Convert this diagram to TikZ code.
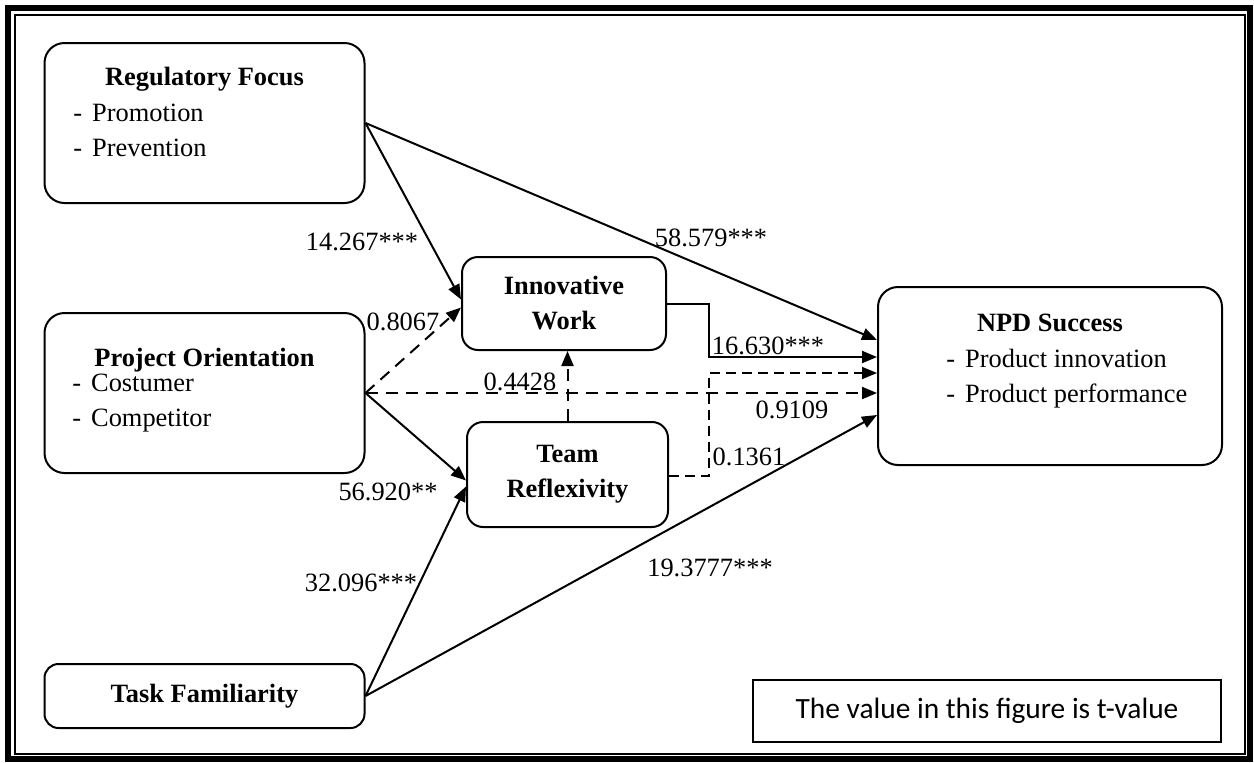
\documentclass[tikz,border=0pt]{standalone}
\usepackage{fontspec}
\setmainfont{Liberation Serif}
\newfontfamily\notefont{Carlito}
\usetikzlibrary{arrows.meta}
\newcommand{\dashitem}[1]{-\hspace{5pt}#1}

\begin{document}
\begin{tikzpicture}[x=0.5pt,y=-0.5pt,
        every node/.style={inner sep=0pt, font=\fontsize{13.2}{17.5}\selectfont},
        bigbox/.style={draw, line width=1pt, rounded corners=10pt},
        smallbox/.style={draw, line width=1pt, rounded corners=8pt, align=center,
            font=\fontsize{13.2}{17.5}\selectfont\bfseries},
        title/.style={anchor=base, font=\fontsize{13.2}{17.5}\selectfont\bfseries},
        solidarrow/.style={line width=1pt, -{Triangle[length=7.5pt,width=6pt]}},
        dasharrow/.style={solidarrow, dash pattern=on 6pt off 4pt}]
        \useasboundingbox (0,0) rectangle (1254,762);
        % frame
        \draw [line width=3pt] (8,8) rectangle (1250,759);
        \draw [line width=0.8pt] (15,15) rectangle (1245,754);
        % constructs
        \node [bigbox, minimum width=160pt, minimum height=80pt] (rf) at (204.5,123) {};
        \node [title] (rftitle) at (204.5,85) {Regulatory Focus};
        \node [anchor=base west] (rflist) at (73,121)
            {\begin{tabular}[t]{@{}l@{}}\dashitem{Promotion}\\ \dashitem{Prevention}\end{tabular}};
        \node [bigbox, minimum width=160pt, minimum height=80pt] (po) at (204.5,393) {};
        \node [title] (potitle) at (204.5,366) {Project Orientation};
        \node [anchor=base west] (polist) at (72,391)
            {\begin{tabular}[t]{@{}l@{}}\dashitem{Costumer}\\ \dashitem{Competitor}\end{tabular}};
        \node [smallbox, rounded corners=7pt, minimum width=160pt, minimum height=32pt] (tf) at (204.5,696) {Task Familiarity};
        \node [smallbox, minimum width=102pt, minimum height=46.5pt] (iw) at (564,303.5) {Innovative\\Work};
        \node [smallbox, minimum width=100.5pt, minimum height=52.5pt] (tr) at (567.5,474.5) {Team\\Reflexivity};
        \node [bigbox, minimum width=172pt, minimum height=89pt] (npd) at (1050,376) {};
        \node [title] (npdtitle) at (1050,331) {NPD Success};
        \node [anchor=base west] (npdlist) at (946,367)
            {\begin{tabular}[t]{@{}l@{}}\dashitem{Product innovation}\\ \dashitem{Product performance}\end{tabular}};
        % paths
        \draw [solidarrow] (rf.east) -- ([yshift=2pt]iw.west);
        \draw [solidarrow] (rf.east) -- ([yshift=18pt]npd.west);
        \draw [dasharrow] (po.east) -- ([yshift=-2pt]iw.west);
        \draw [dasharrow] (po.east) -- (po.east -| npd.west);
        \draw [solidarrow] (po.east) -- ([yshift=-3pt]tr.west);
        \draw [solidarrow] (tf.east) -- ([yshift=-6pt]tr.west);
        \draw [solidarrow] (tf.east) -- ([yshift=-19.5pt]npd.west);
        \draw [solidarrow] (iw.east) -- ++(21pt,0pt) |- ([yshift=9.5pt]npd.west);
        \draw [dasharrow, line width=0.8pt, dash pattern=on 5pt off 3pt]
            ([yshift=-0.75pt]tr.east) -- ++(20pt,0pt) |- ([yshift=1.5pt]npd.west);
        \draw [dasharrow] (tr.north) -- (tr.north |- iw.south);
        % t-values
        \node (vrfiw) at (362,242) {14.267***};
        \node (vrfnpd) at (711,238) {58.579***};
        \node (vpoiw) at (403,322) {0.8067};
        \node (vponpd) at (520,382) {0.4428};
        \node (viwnpd) at (768,346) {16.630***};
        \node (vtrnpd) at (792,410) {0.9109};
        \node (vtriw) at (749,457) {0.1361};
        \node (vpotr) at (388,492) {56.920**};
        \node (vtftr) at (361,583) {32.096***};
        \node (vtfnpd) at (710,568) {19.3777***};
        % note
        \node [draw, line width=0.6pt, minimum width=234pt, minimum height=31pt,
            font=\notefont\fontsize{14.7}{17}\selectfont] (note) at (987,711)
            {The value in this figure is t-value};
\end{tikzpicture}
\end{document}
